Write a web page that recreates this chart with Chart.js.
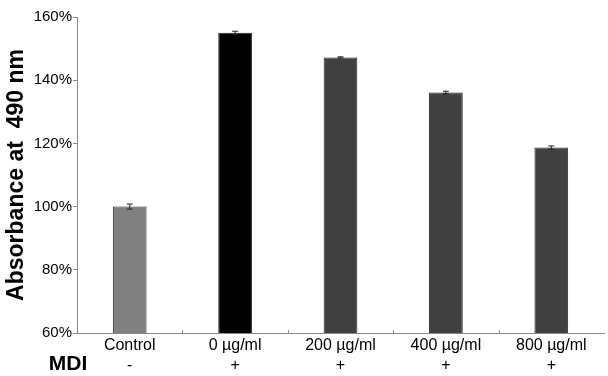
<!DOCTYPE html>
<html>
<head>
<meta charset="utf-8">
<script src="https://cdn.jsdelivr.net/npm/chart.js@4"></script>
<style>
  html, body { margin: 0; padding: 0; background: #fff; }
  #wrap { width: 608px; height: 376px; }
</style>
</head>
<body>
<div id="wrap"><canvas id="chart" width="608" height="376"></canvas></div>
<script>
// absorbance data
const doses = ['Control', '0 \u00b5g/ml', '200 \u00b5g/ml', '400 \u00b5g/ml', '800 \u00b5g/ml'];
const mdi = ['-', '+', '+', '+', '+'];
const absorbance = [100, 155, 147.2, 136.1, 118.7];
const errors = [0.8, 0.5, 0.2, 0.4, 0.5];
const barColors = ['#808080', '#000000', '#404040', '#404040', '#404040'];
const yTicks = [60, 80, 100, 120, 140, 160];

const FONT = '"Liberation Sans", Arial, sans-serif';
const AXIS = '#8a8a8a';

// error bars with caps
const errorBars = {
  id: 'errorBars',
  afterDatasetsDraw(chart) {
    const ctx = chart.ctx;
    const y = chart.scales.y;
    const meta = chart.getDatasetMeta(0);
    ctx.save();
    ctx.strokeStyle = '#222';
    ctx.lineWidth = 1;
    meta.data.forEach((bar, i) => {
      const top = y.getPixelForValue(absorbance[i] + errors[i]);
      const bot = y.getPixelForValue(absorbance[i] - errors[i]);
      ctx.beginPath();
      ctx.moveTo(bar.x, top); ctx.lineTo(bar.x, bot);
      ctx.moveTo(bar.x - 3, top); ctx.lineTo(bar.x + 3, top);
      ctx.moveTo(bar.x - 3, bot); ctx.lineTo(bar.x + 3, bot);
      ctx.stroke();
    });
    ctx.restore();
  }
};

// small inward ticks between categories and the "MDI" row label
const extras = {
  id: 'extras',
  afterDraw(chart) {
    const ctx = chart.ctx;
    const x = chart.scales.x;
    const area = chart.chartArea;
    ctx.save();
    ctx.strokeStyle = AXIS;
    ctx.lineWidth = 1;
    for (let i = 1; i < doses.length; i++) {
      const px = Math.round((x.getPixelForTick(i - 1) + x.getPixelForTick(i)) / 2) + 0.5;
      ctx.beginPath();
      ctx.moveTo(px, area.bottom);
      ctx.lineTo(px, area.bottom - 3);
      ctx.stroke();
    }
    ctx.fillStyle = '#000';
    ctx.font = 'bold 21px ' + FONT;
    ctx.textAlign = 'center';
    ctx.textBaseline = 'alphabetic';
    ctx.fillText('MDI', 68, 370);
    ctx.restore();
  }
};

new Chart(document.getElementById('chart'), {
  type: 'bar',
  data: {
    labels: doses.map((d, i) => [d, mdi[i]]),
    datasets: [{
      data: absorbance,
      backgroundColor: barColors,
      borderColor: '#2a2a2a',
      borderWidth: 1,
      barPercentage: 0.32,
      categoryPercentage: 1
    }]
  },
  options: {
    responsive: false,
    animation: false,
    layout: { padding: { top: 17, right: 4, left: 0, bottom: 0 } },
    plugins: { legend: { display: false }, tooltip: { enabled: false } },
    scales: {
      x: {
        grid: { display: false, drawTicks: false },
        border: { display: true, color: AXIS, width: 1 },
        ticks: {
          color: '#000', padding: 3, maxRotation: 0,
          font: { family: FONT, size: 16, lineHeight: 1.25 }
        },
        afterFit(s) { s.height = 43; }
      },
      y: {
        min: 60, max: 160,
        afterBuildTicks(s) { s.ticks = yTicks.map(v => ({ value: v })); },
        grid: { drawOnChartArea: false, drawTicks: true, tickLength: 4, color: AXIS },
        border: { display: true, color: AXIS, width: 1 },
        ticks: {
          color: '#000', padding: 1,
          font: { family: FONT, size: 15 },
          callback: v => v + '%'
        },
        title: {
          display: true,
          text: 'Absorbance at  490 nm',
          color: '#000',
          font: { family: FONT, size: 23, weight: 'bold' },
          padding: { top: 3, bottom: 0 }
        },
        afterFit(s) { s.width = 77; }
      }
    }
  },
  plugins: [errorBars, extras]
});
</script>
</body>
</html>
